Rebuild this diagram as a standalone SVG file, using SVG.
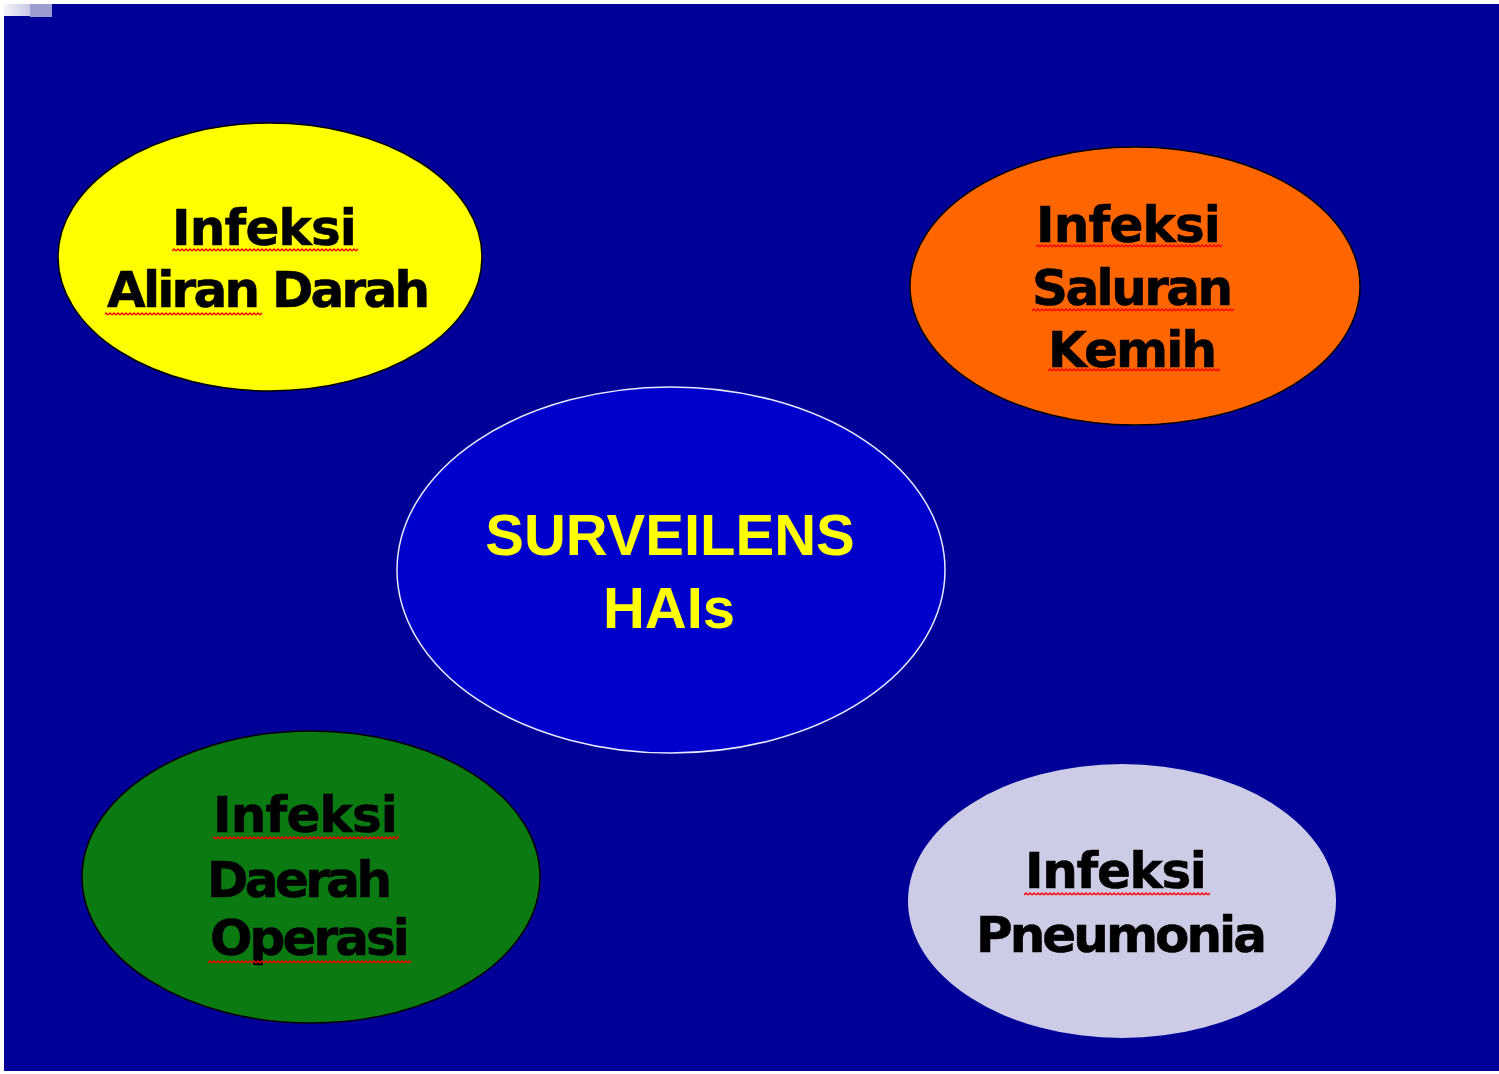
<svg xmlns="http://www.w3.org/2000/svg" width="1499" height="1074" viewBox="0 0 1499 1074">
<defs>
<linearGradient id="tl" x1="0" x2="1" y1="0" y2="0"><stop offset="0" stop-color="#F4F4FA"/><stop offset="1" stop-color="#C8C8E4"/></linearGradient>
<pattern id="sq" width="4" height="4" patternUnits="userSpaceOnUse"><path d="M0,3 L2,1 L4,3" stroke="#FF0000" stroke-width="1.3" fill="none"/></pattern>
<style>
.lbl{font-family:"DejaVu Sans",Verdana,sans-serif;font-weight:bold;font-size:50px;fill:#000;stroke:#000;stroke-width:0.6px}
.ctr{font-family:"Liberation Sans",Arial,sans-serif;font-weight:bold;font-size:58px;fill:#FFFF00}
.sq{fill:url(#sq)}
</style>
</defs>
<rect width="1499" height="1074" fill="#FFFFFF"/>
<rect x="4" y="4" width="1495" height="1067" fill="#000099"/>
<rect x="4" y="4" width="26" height="12" fill="url(#tl)"/>
<rect x="30" y="4" width="22" height="13" fill="#9C9CCE"/>

<g id="node-aliran-darah">
<ellipse cx="270" cy="257" rx="212" ry="134" fill="#FFFF00" stroke="#000" stroke-width="1.5"/>
<text class="lbl" x="172" y="245" textLength="185">Infeksi</text>
<text class="lbl" x="107" y="307" textLength="323">Aliran Darah</text>
<rect class="sq" x="172" y="248" width="186" height="4"/>
<rect class="sq" x="105" y="312" width="157" height="4"/>
</g>

<g id="node-saluran-kemih">
<ellipse cx="1135" cy="286" rx="225" ry="139" fill="#FF6600" stroke="#000" stroke-width="1.5"/>
<text class="lbl" x="1036" y="242" textLength="185">Infeksi</text>
<text class="lbl" x="1032" y="305" textLength="201">Saluran</text>
<text class="lbl" x="1048" y="367" textLength="169">Kemih</text>
<rect class="sq" x="1036" y="244" width="186" height="4"/>
<rect class="sq" x="1032" y="308" width="202" height="4"/>
<rect class="sq" x="1048" y="368" width="172" height="4"/>
</g>

<g id="node-surveilens">
<ellipse cx="671" cy="570" rx="274" ry="183" fill="#0000CC" stroke="#E8E8FF" stroke-width="1.5"/>
<text class="ctr" x="670" y="555" text-anchor="middle">SURVEILENS</text>
<text class="ctr" x="669" y="628" text-anchor="middle">HAIs</text>
</g>

<g id="node-daerah-operasi">
<ellipse cx="311" cy="877" rx="229" ry="146" fill="#0B7A12" stroke="#000" stroke-width="1.5"/>
<text class="lbl" x="213" y="832" textLength="185">Infeksi</text>
<text class="lbl" x="207" y="897" textLength="185">Daerah</text>
<text class="lbl" x="210" y="955" textLength="200">Operasi</text>
<rect class="sq" x="213" y="836" width="186" height="4"/>
<rect class="sq" x="208" y="960" width="203" height="4"/>
</g>

<g id="node-pneumonia">
<ellipse cx="1122" cy="901" rx="214" ry="137" fill="#CCCCE6"/>
<text class="lbl" x="1025" y="888" textLength="182">Infeksi</text>
<text class="lbl" x="976" y="952" textLength="291">Pneumonia</text>
<rect class="sq" x="1024" y="892" width="186" height="4"/>
</g>

<g id="connectors"></g>
</svg>
